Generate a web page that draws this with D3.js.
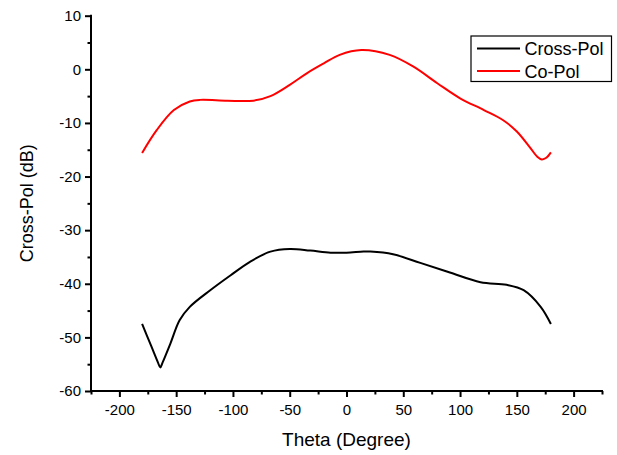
<!DOCTYPE html>
<html>
<head>
<meta charset="utf-8">
<script src="https://cdn.jsdelivr.net/npm/d3@7"></script>
<style>
  html, body { margin: 0; padding: 0; background: #fff; }
  svg { display: block; font-family: "Liberation Sans", Arial, sans-serif; }
</style>
</head>
<body>
<svg id="chart" width="617" height="455"></svg>
<script>
// Co-Pol pattern (dB) versus theta (degrees)
const coPolTheta = [-180, -167, -152, -138, -129, -105, -82, -67, -50, -35, -20, -6, 13, 38, 59, 80, 100, 121, 138, 150, 162, 168, 172, 176, 180];
const coPolValues = [-15.6, -11.3, -7.6, -6.0, -5.7, -5.85, -5.85, -5.0, -2.9, -0.75, 1.1, 2.7, 3.6, 2.7, 0.5, -2.6, -5.4, -7.6, -9.5, -11.6, -14.7, -16.3, -16.8, -16.5, -15.5];

// Cross-Pol pattern (dB) versus theta (degrees)
const crossPolTheta = [-180, -172, -166, -164, -162, -155, -147, -138, -120, -102, -85, -67, -50, -32, -14, 0, 15, 21, 41, 65, 91, 118, 141, 156, 171, 180];
const crossPolValues = [-47.5, -51.6, -54.7, -55.6, -54.7, -51.1, -46.8, -44.3, -41.2, -38.4, -35.9, -34.0, -33.5, -33.8, -34.2, -34.2, -34.0, -34.0, -34.5, -36.1, -37.9, -39.7, -40.2, -41.2, -44.3, -47.5];

// Axis ticks
const xMajorTicks = [-200, -150, -100, -50, 0, 50, 100, 150, 200];
const xMinorTicks = [-225, -175, -125, -75, -25, 25, 75, 125, 175, 225];
const yMajorTicks = [-60, -50, -40, -30, -20, -10, 0, 10];
const yMinorTicks = [-55, -45, -35, -25, -15, -5, 5];

const seriesNames = ["Cross-Pol", "Co-Pol"];
const seriesColors = ["#000000", "#ff0000"];

const svg = d3.select("#chart");
const plotLeft = 91, plotRight = 602, plotTop = 15.7, plotBottom = 391;

const x = d3.scaleLinear().domain([-225, 225]).range([plotLeft, plotRight]);
const y = d3.scaleLinear().domain([-60, 10]).range([plotBottom, plotTop]);
const plain = d => String(d);

// Minor ticks (no labels)
svg.append("g")
  .attr("transform", `translate(0,${plotBottom})`)
  .call(d3.axisBottom(x).tickValues(xMinorTicks).tickSize(3.5).tickSizeOuter(0).tickFormat(""))
  .call(g => g.select(".domain").remove())
  .call(g => g.selectAll("line").attr("stroke", "#000").attr("stroke-width", 2));
svg.append("g")
  .attr("transform", `translate(${plotLeft},0)`)
  .call(d3.axisLeft(y).tickValues(yMinorTicks).tickSize(3.5).tickSizeOuter(0).tickFormat(""))
  .call(g => g.select(".domain").remove())
  .call(g => g.selectAll("line").attr("stroke", "#000").attr("stroke-width", 2));

// Major ticks with labels
const xAxis = svg.append("g")
  .attr("transform", `translate(0,${plotBottom})`)
  .call(d3.axisBottom(x).tickValues(xMajorTicks).tickFormat(plain).tickSize(6).tickSizeOuter(0).tickPadding(7));
xAxis.select(".domain").remove();
xAxis.selectAll("line").attr("stroke", "#000").attr("stroke-width", 2);
xAxis.selectAll("text").attr("font-size", 15).attr("fill", "#000")
  .attr("font-family", "Liberation Sans, Arial, sans-serif");

const yAxis = svg.append("g")
  .attr("transform", `translate(${plotLeft},0)`)
  .call(d3.axisLeft(y).tickValues(yMajorTicks).tickFormat(plain).tickSize(6).tickSizeOuter(0).tickPadding(4));
yAxis.select(".domain").remove();
yAxis.selectAll("line").attr("stroke", "#000").attr("stroke-width", 2);
yAxis.selectAll("text").attr("font-size", 15).attr("fill", "#000")
  .attr("font-family", "Liberation Sans, Arial, sans-serif");

// Axis lines
svg.append("line").attr("x1", plotLeft).attr("x2", plotRight + 1).attr("y1", plotBottom).attr("y2", plotBottom)
  .attr("stroke", "#000").attr("stroke-width", 2);
svg.append("line").attr("x1", plotLeft).attr("x2", plotLeft).attr("y1", plotTop - 1).attr("y2", plotBottom + 1)
  .attr("stroke", "#000").attr("stroke-width", 2);

// Curves
const line = d3.line()
  .x(d => x(d[0]))
  .y(d => y(d[1]))
  .curve(d3.curveCatmullRom.alpha(0.5));

const crossData = d3.zip(crossPolTheta, crossPolValues);
const coData = d3.zip(coPolTheta, coPolValues);

svg.append("path").datum(crossData)
  .attr("d", line).attr("fill", "none")
  .attr("stroke", seriesColors[0]).attr("stroke-width", 2);
svg.append("path").datum(coData)
  .attr("d", line).attr("fill", "none")
  .attr("stroke", seriesColors[1]).attr("stroke-width", 2);

// Axis titles
svg.append("text")
  .attr("x", (plotLeft + plotRight) / 2).attr("y", 446)
  .attr("text-anchor", "middle").attr("font-size", 19).attr("fill", "#000")
  .text("Theta (Degree)");
svg.append("text")
  .attr("transform", `translate(33,${(plotTop + plotBottom) / 2}) rotate(-90)`)
  .attr("text-anchor", "middle").attr("font-size", 18).attr("fill", "#000")
  .text("Cross-Pol (dB)");

// Legend
const legend = svg.append("g");
legend.append("rect")
  .attr("x", 471).attr("y", 36).attr("width", 140.5).attr("height", 45.5)
  .attr("fill", "#fff").attr("stroke", "#000").attr("stroke-width", 1.2);
seriesNames.forEach((name, i) => {
  const ly = 48.5 + i * 22.5;
  legend.append("line")
    .attr("x1", 477).attr("x2", 520).attr("y1", ly).attr("y2", ly)
    .attr("stroke", seriesColors[i]).attr("stroke-width", 2);
  legend.append("text")
    .attr("x", 524.5).attr("y", ly + 6.5)
    .attr("font-size", 18).attr("fill", "#000")
    .text(name);
});
</script>
</body>
</html>
